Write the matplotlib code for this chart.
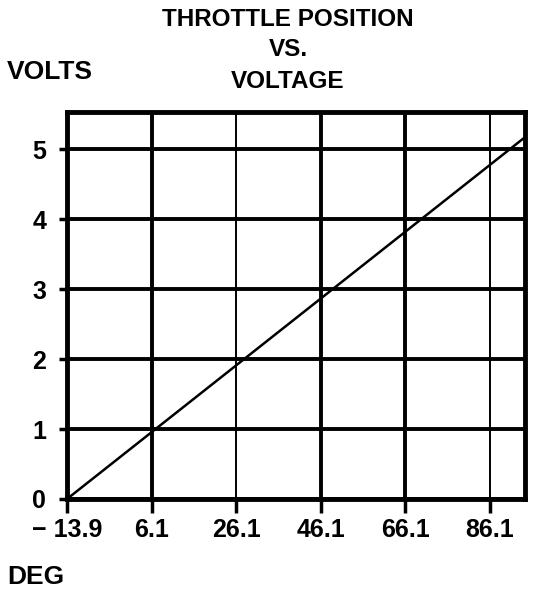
import matplotlib
matplotlib.use("Agg")
import matplotlib.pyplot as plt

plt.rcParams['font.family'] = ['Liberation Sans', 'DejaVu Sans']

deg = [-13.9, 94.5]
volts = [0.0, 5.17]
x_ticks = [-13.9, 6.1, 26.1, 46.1, 66.1, 86.1]
x_labels = ["\u2212 13.9", "6.1", "26.1", "46.1", "66.1", "86.1"]
y_ticks = [0, 1, 2, 3, 4, 5]
y_labels = ["0", "1", "2", "3", "4", "5"]
title_lines = ["THROTTLE POSITION", "VS.", "VOLTAGE"]

fig = plt.figure(figsize=(5.44, 5.94), dpi=100)
ax = fig.add_axes([67/544, 95/594, (525-67)/544, (499-112)/594])

ax.plot(deg, volts, color="black", lw=1.8, solid_capstyle="butt", zorder=3)
ax.set_xlim(-13.9, 94.5)
ax.set_ylim(0, 5.53)

ax.set_xticks(x_ticks)
ax.set_xticklabels(x_labels)
ax.set_yticks(y_ticks)
ax.set_yticklabels(y_labels)
ax.tick_params(axis="x", direction="out", length=10, width=2.5, color="black",
               labelsize=18, pad=4)
ax.tick_params(axis="y", direction="out", length=6, width=2.5, color="black",
               labelsize=18, pad=9)
for lab in ax.get_xticklabels() + ax.get_yticklabels():
    lab.set_fontweight("bold")

ax.grid(True, color="black", lw=2.8)
for i, gl in enumerate(ax.get_xgridlines()):
    if x_ticks[i] in (26.1, 86.1):
        gl.set_linewidth(1.4)
for sp in ax.spines.values():
    sp.set_linewidth(3.5)
    sp.set_color("black")

for y, t in zip([19, 50, 81], title_lines):
    fig.text(288/544, 1 - y/594, t, ha="center", va="center",
             fontsize=17.5, fontweight="bold")
fig.text(7/544, 1 - 72/594, "VOLTS", ha="left", va="center", fontsize=19, fontweight="bold")
fig.text(7/544, 1 - 577/594, "DEG", ha="left", va="center", fontsize=19, fontweight="bold")

fig.savefig("out.png", dpi=100, facecolor="white")
